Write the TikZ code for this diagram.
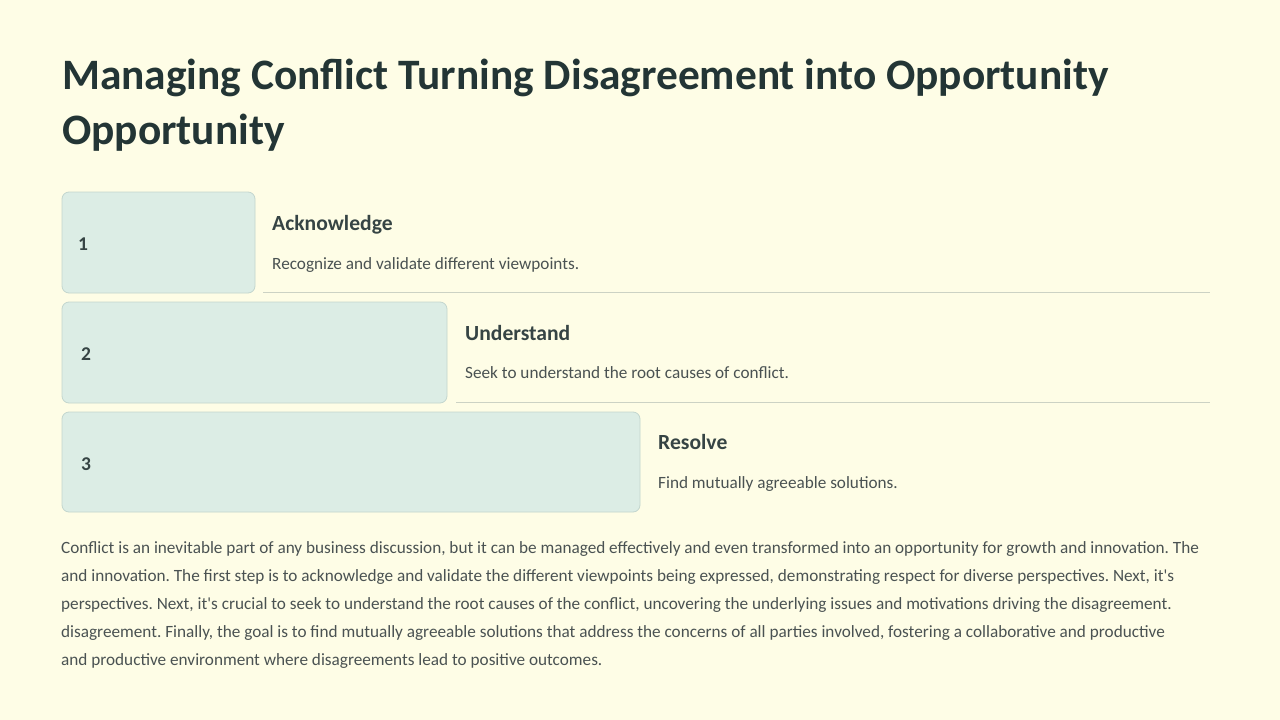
\documentclass[tikz,border=0pt]{standalone}
\usepackage{fontspec}
\setmainfont{Carlito}
\frenchspacing
\definecolor{bg}{HTML}{FEFDE6}
\definecolor{titlec}{HTML}{233535}
\definecolor{headc}{HTML}{364444}
\definecolor{bodyc}{HTML}{4A5252}
\definecolor{boxfill}{HTML}{DCEDE5}
\definecolor{boxline}{HTML}{C3D6CE}
\definecolor{rulec}{HTML}{CCD2C4}
\tikzset{
  stepbox/.style={draw=boxline, fill=boxfill, line width=0.8pt, rounded corners=7pt},
  numtxt/.style={anchor=west, inner sep=0pt, font=\fontsize{19.5}{22}\selectfont\bfseries, text=headc},
  headtxt/.style={anchor=base west, inner sep=0pt, font=\fontsize{21.6}{24}\selectfont\bfseries, text=headc},
  desctxt/.style={anchor=base west, inner sep=0pt, font=\fontsize{17.2}{20}\selectfont, text=bodyc},
  bodytxt/.style={anchor=base west, inner sep=0pt, font=\fontsize{17.2}{20}\selectfont, text=bodyc},
  titletxt/.style={anchor=base west, inner sep=0pt, font=\fontsize{43.4}{48}\selectfont\bfseries, text=titlec},
  rule/.style={draw=rulec, line width=0.8pt}
}
\begin{document}
\begin{tikzpicture}[x=1pt,y=-1pt]
\fill[bg] (0,0) rectangle (1280,720);
\useasboundingbox (0,0) rectangle (1280,720);
% title
\node[titletxt] (t1) at (62,89) {Managing Conflict Turning Disagreement into Opportunity};
\node[titletxt] (t2) at (62,144) {Opportunity};
% boxes
\draw[stepbox] (62,192) rectangle (255,293);
\draw[stepbox] (62,302) rectangle (447,403);
\draw[stepbox] (62,412) rectangle (640,512);
\node[numtxt] (n1) at (78,244) {1};
\node[numtxt] (n2) at (81,354) {2};
\node[numtxt] (n3) at (81,464) {3};
% headings
\node[headtxt] (h1) at (272,230) {Acknowledge};
\node[desctxt] (d1) at (272,269) {Recognize and validate different viewpoints.};
\node[headtxt] (h2) at (465,340) {Understand};
\node[desctxt] (d2) at (465,378) {Seek to understand the root causes of conflict.};
\node[headtxt] (h3) at (658,449) {Resolve};
\node[desctxt] (d3) at (658,488) {Find mutually agreeable solutions.};
% rules
\coordinate (r1a) at (263,292.5); \coordinate (r1b) at (1210,292.5);
\coordinate (r2a) at (456,402.5); \coordinate (r2b) at (1210,402.5);
\draw[rule] (r1a) -- (r1b);
\draw[rule] (r2a) -- (r2b);
% body
\node[bodytxt] (p1) at (61,553) {Conflict is an inevitable part of any business discussion, but it can be managed effectively and even transformed into an opportunity for growth and innovation. The};
\node[bodytxt] (p2) at (61,581) {and innovation. The first step is to acknowledge and validate the different viewpoints being expressed, demonstrating respect for diverse perspectives. Next, it\textquotesingle s};
\node[bodytxt] (p3) at (61,609) {perspectives. Next, it\textquotesingle s crucial to seek to understand the root causes of the conflict, uncovering the underlying issues and motivations driving the disagreement.};
\node[bodytxt] (p4) at (61,637) {disagreement. Finally, the goal is to find mutually agreeable solutions that address the concerns of all parties involved, fostering a collaborative and productive};
\node[bodytxt] (p5) at (61,665) {and productive environment where disagreements lead to positive outcomes.};
\end{tikzpicture}
\end{document}
